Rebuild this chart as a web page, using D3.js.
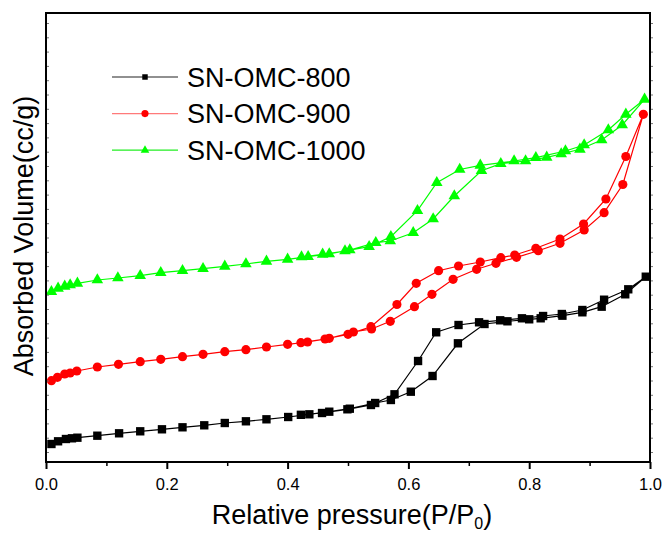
<!doctype html>
<html lang=en>
<head>
<meta charset=utf-8>
<title>Isotherms</title>
<script src="https://cdn.jsdelivr.net/npm/d3@7/dist/d3.min.js"></script>
<style>
  body { margin: 0; background: #fff; }
  text { font-family: "Liberation Sans", Arial, sans-serif; fill: #000; }
</style>
</head>
<body>
<div id="container"></div>
<script>
// relative pressure P/P0 and adsorbed volume (arbitrary units, no y labels in the figure)
var p800ads = [0.009,0.020,0.033,0.043,0.052,0.085,0.121,0.156,0.192,0.226,0.262,0.296,0.331,0.365,0.401,0.436,0.469,0.503,0.545,0.571,0.604,0.640,0.682,0.726,0.764,0.800,0.819,0.855,0.888,0.920,0.959,0.993];
var v800ads = [18,20.7,23,23.7,24.3,26.3,28.7,30.7,32.7,34.7,36.7,39,40.7,42.7,45,47.7,50.3,53.3,59,62,70.3,86,118.7,138,140.7,142.7,143.7,146.3,149.7,155.3,167.7,185.3];
var p800des = [0.993,0.964,0.924,0.888,0.854,0.823,0.788,0.752,0.717,0.683,0.646,0.616,0.577,0.538,0.499,0.457,0.422];
var v800des = [185.3,172.7,162.3,152,148,146,143.7,141.7,139.7,137,129.7,101,67.7,57,52.7,49,47.2];

var p900ads = [0.009,0.019,0.031,0.040,0.051,0.085,0.120,0.156,0.190,0.226,0.260,0.296,0.331,0.365,0.400,0.433,0.469,0.509,0.539,0.570,0.610,0.639,0.674,0.713,0.745,0.779,0.815,0.851,0.891,0.924,0.955,0.989];
var v900ads = [81.3,84.7,88,89,91,95,97.7,100.3,102.7,105.3,107.7,110.3,112.3,115,117.7,120,123.7,130,133,140.7,155.3,167.7,182.7,192.7,198.7,204.7,211.3,218.7,232,249.3,277.5,347.7];
var p900des = [0.989,0.960,0.927,0.890,0.851,0.811,0.776,0.753,0.719,0.683,0.650,0.613,0.581,0.538,0.500,0.462,0.422];
var v900des = [347.7,305.5,263,238,223,213.7,207,204.3,200,196,191.3,178.7,157.5,135.3,127.7,123,119.3];

var p1000ads = [0.009,0.020,0.031,0.040,0.052,0.085,0.119,0.156,0.190,0.226,0.260,0.296,0.331,0.365,0.400,0.434,0.469,0.503,0.546,0.570,0.608,0.641,0.676,0.721,0.753,0.794,0.829,0.853,0.884,0.920,0.954,0.991];
var v1000ads = [170.3,173.7,175.7,177,178.7,182,184,186.3,189.3,191.3,193.3,195.7,198,200.7,202.7,205.3,208,212,219.3,221,229.3,243,266,291.3,298.3,301,304.7,308,312.7,322,337,362.7];
var p1000des = [0.991,0.960,0.931,0.891,0.860,0.811,0.775,0.719,0.685,0.647,0.615,0.571,0.535,0.495,0.458,0.423];
var v1000des = [362.7,347.7,332,317,311,304.3,301,296.7,292.5,279.3,251.3,225.3,215.3,211,207.7,205];

var names = ["SN-OMC-800", "SN-OMC-900", "SN-OMC-1000"];
var xTicks = [0, 0.2, 0.4, 0.6, 0.8, 1.0];

var series = [
  {name: names[0], ads: d3.zip(p800ads, v800ads), des: d3.zip(p800des, v800des), color: "#000", legendColor: "#222", sym: d3.symbolSquare, size: 70, lsize: 30},
  {name: names[1], ads: d3.zip(p900ads, v900ads), des: d3.zip(p900des, v900des), color: "#ff0000", legendColor: "#ff7a7a", sym: d3.symbolCircle, size: 66, lsize: 40},
  {name: names[2], ads: d3.zip(p1000ads, v1000ads), des: d3.zip(p1000des, v1000des), color: "#00ff00", legendColor: "#22ee22", sym: d3.symbolTriangle, size: 58, lsize: 32}
];

var w = 664, h = 533;
var m = {left: 46, top: 13, right: 14, bottom: 71};
var svg = d3.select("#container").append("svg").attr("width", w).attr("height", h);

var x = d3.scaleLinear().domain([0, 1]).range([m.left, w - m.right]);
var y = d3.scaleLinear().domain([0, 449]).range([h - m.bottom, m.top]);

var line = d3.line().x(function(d) { return x(d[0]); }).y(function(d) { return y(d[1]); });

// curves
series.forEach(function(s) {
  var g = svg.append("g");
  g.append("path")
    .attr("d", line(s.ads.concat(s.des.slice(1))))
    .attr("fill", "none")
    .attr("stroke", s.color)
    .attr("stroke-width", 1.2);
  g.selectAll("path.pt")
    .data(s.ads.concat(s.des.slice(1)))
    .enter()
    .append("path")
    .attr("class", "pt")
    .attr("d", d3.symbol().type(s.sym).size(s.size))
    .attr("transform", function(d) { return "translate(" + x(d[0]) + "," + y(d[1]) + ")"; })
    .attr("fill", s.color);
});

// axes
var xMinor = d3.range(0.1, 1, 0.2);
svg.append("g")
  .attr("transform", "translate(0," + (h - m.bottom) + ")")
  .call(d3.axisBottom(x).tickValues(xTicks).tickFormat(d3.format(".1f")).tickSize(7).tickPadding(9))
  .call(function(g) {
    g.select(".domain").remove();
    g.selectAll(".tick line").attr("stroke-width", 2);
    g.selectAll(".tick text").attr("font-size", 16.5).attr("font-family", "'Liberation Sans', Arial, sans-serif");
  });
svg.append("g")
  .attr("transform", "translate(0," + (h - m.bottom) + ")")
  .call(d3.axisBottom(x).tickValues(xMinor).tickFormat("").tickSize(4))
  .call(function(g) {
    g.select(".domain").remove();
    g.selectAll(".tick line").attr("stroke-width", 1.5);
  });

// y ticks (unlabelled)
var yTicks = d3.range(10, 449, 14.3);
svg.append("g")
  .attr("transform", "translate(" + m.left + ",0)")
  .call(d3.axisRight(y).tickValues(yTicks).tickFormat("").tickSize(3))
  .call(function(g) {
    g.select(".domain").remove();
    g.selectAll(".tick line").attr("stroke", "#777");
  });
svg.append("g")
  .attr("transform", "translate(" + (w - m.right) + ",0)")
  .call(d3.axisRight(y).tickValues(yTicks).tickFormat("").tickSize(3))
  .call(function(g) {
    g.select(".domain").remove();
    g.selectAll(".tick line").attr("stroke", "#777");
  });

// frame
svg.append("rect")
  .attr("x", m.left).attr("y", m.top)
  .attr("width", w - m.left - m.right).attr("height", h - m.top - m.bottom)
  .attr("fill", "none").attr("stroke", "#000").attr("stroke-width", 2);

// axis titles
var xt = svg.append("text")
  .attr("x", 352).attr("y", 524)
  .attr("text-anchor", "middle")
  .attr("font-size", 27);
xt.append("tspan").text("Relative pressure(P/P");
xt.append("tspan").attr("font-size", 16).attr("dy", 5).text("0");
xt.append("tspan").attr("dy", -5).text(")");

svg.append("text")
  .attr("transform", "translate(33,236) rotate(-90)")
  .attr("text-anchor", "middle")
  .attr("font-size", 27)
  .text("Absorbed Volume(cc/g)");

// legend
var leg = svg.append("g").selectAll("g")
  .data(series)
  .enter()
  .append("g")
  .attr("transform", function(d, i) { return "translate(112," + (77 + i * 36.6) + ")"; });
leg.append("line")
  .attr("x1", 0).attr("x2", 66)
  .attr("stroke", function(d) { return d.legendColor; })
  .attr("stroke-width", 1.2);
leg.append("path")
  .attr("d", function(d) { return d3.symbol().type(d.sym).size(d.lsize)(); })
  .attr("transform", "translate(33,0)")
  .attr("fill", function(d) { return d.color; });
leg.append("text")
  .attr("x", 75).attr("y", 9.5)
  .attr("font-size", 27)
  .text(function(d) { return d.name; });
</script>
</body>
</html>
